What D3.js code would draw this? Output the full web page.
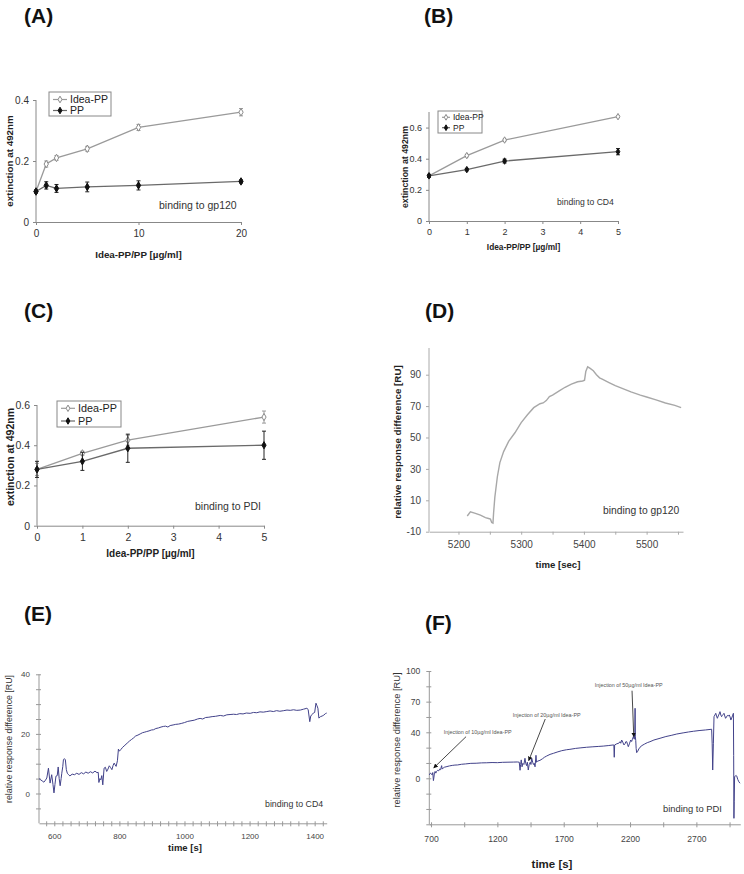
<!DOCTYPE html>
<html><head><meta charset="utf-8">
<script src="https://cdn.jsdelivr.net/npm/d3@7"></script>
<style>
body{margin:0;background:#fff}
svg{display:block}
text{font-family:"Liberation Sans",Arial,Helvetica,sans-serif}
</style>
</head><body>
<svg id="c" width="744" height="874"></svg>
<script>
// ---------- DATA ----------
// (A) binding to gp120
const concA = [0, 1, 2, 5, 10, 20];
const ideaA = [0.10, 0.19, 0.21, 0.24, 0.31, 0.36];
const ideaAErr = [0.005, 0.01, 0.008, 0.008, 0.01, 0.012];
const ppA = [0.10, 0.12, 0.11, 0.115, 0.12, 0.133];
const ppAErr = [0.005, 0.012, 0.013, 0.016, 0.015, 0.005];
// (B) binding to CD4
const concB = [0, 1, 2, 5];
const ideaB = [0.29, 0.42, 0.52, 0.67];
const ideaBErr = [0.005, 0.008, 0.006, 0.006];
const ppB = [0.29, 0.33, 0.385, 0.445];
const ppBErr = [0.01, 0.008, 0.012, 0.02];
// (C) binding to PDI
const concC = [0, 1, 2, 5];
const ideaC = [0.28, 0.36, 0.425, 0.54];
const ideaCErr = [0.03, 0.01, 0.025, 0.03];
const ppC = [0.28, 0.32, 0.385, 0.40];
const ppCErr = [0.04, 0.045, 0.07, 0.07];
const seriesNames = ["Idea-PP", "PP"];

// (D) SPR sensorgram, gp120
const timeD = [5214,5219,5227,5235,5243,5248,5251,5253,5255,5256,5258,5262,5266,5272,5280,5290,5300,5310,5320,5330,5335,5340,5345,5350,5360,5370,5380,5390,5398,5401,5403,5406,5410,5415,5420,5425,5430,5440,5450,5460,5475,5490,5500,5515,5530,5545,5555];
const respD = [0,2.6,1.7,0.5,-1,-1.6,-2,-4.1,-4.5,2,12,25,34,41,47.5,53,59.5,64.5,69,71.5,72,73.5,76,77,79.5,82,84,85.5,86,86.5,92,95,94,92.5,90,88,87,85,83,81.5,79,77,75.8,74,72,70.5,69];

// (E) SPR sensorgram, CD4
const timeE = [553,558,563,568,573,577,582,587,592,596,599,602,605,609,612,615,618,621,623,626,628,631,634,637,640,644,648,655,662,669,676,683,690,697,704,711,718,725,731,735,737,740,743,746,749,753,757,761,765,769,773,777,781,784,787,790,794,797,800,804,810,817,824,831,837,843,850,857,864,871,878,884,891,898,905,912,920,928,935,942,949,956,965,973,982,990,1000,1010,1020,1030,1040,1048,1056,1065,1075,1085,1095,1100,1110,1120,1130,1140,1151,1160,1170,1180,1190,1202,1212,1222,1232,1242,1253,1263,1273,1283,1293,1305,1315,1325,1335,1345,1356,1366,1376,1380,1385,1388,1392,1396,1400,1404,1407,1410,1413,1418,1423,1428,1433,1437];
const respE = [5,4.6,4.2,3.8,4.5,5.2,8.5,3.5,6.3,3,0.2,3,5.8,6,8.9,5,2.6,5,6.8,9,11.3,11.7,11.3,8,6.8,6.3,5.9,6.5,6.3,6.8,6.4,7,6.6,7.2,6.8,7.3,6.9,7.5,7,7.1,3.7,5,4.6,6,2.9,8.5,8.8,7.4,8.2,9.3,8.7,8,9.5,10.2,9.6,9.1,11,14.9,14.2,14.7,15.5,16.2,16.9,17.6,18.1,18.6,19.3,19.6,20,20.4,20.6,20.8,21,21.3,21.4,21.8,22,22.3,22.5,22.6,22.3,22.8,23,23.2,23.3,23.5,23.8,24.2,24.4,24.6,25,25.2,25,25.5,25.6,25.8,25.9,26,26.2,26,26.4,26.5,26.6,26.5,26.8,26.7,27,26.9,27.2,27.1,27.4,27.3,27.5,27.7,27.5,27.8,27.6,27.8,28,27.9,28.1,27.9,28,28.3,28.6,28.2,24.1,26,26.5,27,27.2,30.3,29.5,28.6,25.3,25.8,26,26.3,26.8,27];

// (F) SPR sensorgram, PDI
const timeF = [687,695,702,708,713,718,722,726,731,736,742,750,758,765,772,780,784,792,800,820,840,860,880,900,930,960,1000,1040,1080,1120,1160,1200,1240,1280,1320,1350,1365,1371,1375,1380,1386,1392,1400,1408,1414,1420,1426,1433,1440,1448,1453,1459,1466,1472,1478,1484,1491,1495,1505,1521,1540,1555,1572,1597,1622,1650,1685,1720,1747,1790,1830,1873,1920,1960,1998,2040,2074,2078,2081,2084,2100,2115,2124,2130,2137,2145,2154,2162,2168,2175,2181,2187,2195,2205,2212,2218,2225,2232,2236,2238,2240,2243,2246,2250,2258,2266,2275,2290,2310,2330,2350,2380,2426,2470,2510,2552,2600,2640,2677,2720,2770,2815,2819,2823,2828,2833,2840,2846,2852,2858,2865,2872,2878,2884,2890,2896,2902,2908,2914,2920,2927,2934,2941,2948,2954,2960,2966,2972,2979,2981,2983,2985,2988,2993,3000,3004,3012,3020,3029];
const respF = [3,4.5,4,3,5,-2,1,5,6,4.5,6,7,6.5,8,7.5,11,8,9,9.6,10.2,10.8,11.2,11.5,11.6,12.2,12.5,13,13.1,13.4,13.5,13.7,13.6,13.9,14,14.1,14.2,14,7,12,16,10,13,12,17.4,13,11,14,7.2,12,14,12,17.4,14,12,13,10,20,14,15,15.6,17,18.3,19.4,20.8,21.7,22.8,24,24.8,25.2,26,26.5,27,27.4,27.7,28,28.5,29,29,18.3,29,30,30.5,31.8,30.5,33.3,31.5,29,30,31.8,31.8,29.5,27.5,30,33.3,32,34,36.2,34,40,63.5,36,33,26,22.3,23.5,25.5,27,28.5,29.8,31,31.8,33.3,34.8,36.3,37.3,38.5,39.5,40.3,41,41.7,42.3,43,30,7.2,30,55.3,57,58.6,56,53.7,56,58,60.2,57,55.3,56.5,57.5,58.6,56,53.7,55,56.5,56,57,55,52,54,56,58.6,20,-34.8,-20,1.4,2,2.5,2,-1,-3,-4.3];
const injLabelsF = ["Injection of 10µg/ml Idea-PP", "Injection of 20µg/ml Idea-PP", "Injection of 50µg/ml Idea-PP"];
const injTimeF = [720, 1436, 2228];   // arrow target time
const injRespF = [9, 15.3, 36.2];     // arrow target response

// ---------- DRAWING ----------
const svg = d3.select("#c");
const FONT = '"Liberation Sans",Arial,Helvetica,sans-serif';
const hyph = f => d => f(d).replace("\u2212", "-");

function styleAxis(g, col, txtCol, fs){
  g.select(".domain").attr("stroke", col).attr("stroke-width", 1);
  g.selectAll(".tick line").attr("stroke", col);
  g.selectAll(".tick text").attr("fill", txtCol).attr("font-size", fs).attr("font-family", FONT);
}

function panelLabel(txt, x, y){
  svg.append("text").attr("x", x).attr("y", y).text(txt)
    .attr("font-size", 21).attr("font-weight", "bold").attr("fill", "#111");
}

function dosePanel(o){
  const x = d3.scaleLinear().domain(o.xDom).range([o.left, o.right]);
  const y = d3.scaleLinear().domain(o.yDom).range([o.bottom, o.top]);
  const gx = svg.append("g").attr("transform", `translate(0,${o.bottom})`)
    .call(d3.axisBottom(x).tickValues(o.xTicks).tickSize(3).tickSizeOuter(0).tickPadding(5).tickFormat(d3.format("d")));
  styleAxis(gx, "#888", "#333", o.tickFs);
  const gy = svg.append("g").attr("transform", `translate(${o.left},0)`)
    .call(d3.axisLeft(y).tickValues(o.yTicks).tickSize(3).tickSizeOuter(0).tickPadding(4).tickFormat(d => d === 0 ? "0" : d3.format(".1f")(d)));
  styleAxis(gy, "#888", "#333", o.tickFs);
  gy.select(".domain").attr("d", `M0,${o.bottom}V${o.top}`);

  const styles = [
    {line: "#9a9a9a", fill: "#fff", stroke: "#8a8a8a", err: "#9a9a9a"},
    {line: "#6a6a6a", fill: "#111", stroke: "#111", err: "#222"}
  ];
  const line = d3.line().x(d => x(d[0])).y(d => y(d[1]));
  const diamond = d3.symbol().type(d3.symbolDiamond).size(o.mk);
  o.series.forEach((s, i) => {
    const st = styles[i];
    const pts = o.conc.map((c, k) => [c, s.v[k], s.e[k]]);
    svg.append("path").datum(pts).attr("d", line).attr("fill", "none")
      .attr("stroke", st.line).attr("stroke-width", 1.3);
    const eb = svg.append("g");
    pts.forEach(p => {
      const x0 = x(p[0]), yt = y(p[1] + p[2]), yb = y(p[1] - p[2]);
      eb.append("line").attr("x1", x0).attr("x2", x0).attr("y1", yt).attr("y2", yb).attr("stroke", st.err).attr("stroke-width", 1);
      eb.append("line").attr("x1", x0 - 2).attr("x2", x0 + 2).attr("y1", yt).attr("y2", yt).attr("stroke", st.err).attr("stroke-width", 1);
      eb.append("line").attr("x1", x0 - 2).attr("x2", x0 + 2).attr("y1", yb).attr("y2", yb).attr("stroke", st.err).attr("stroke-width", 1);
    });
    svg.append("g").selectAll("path").data(pts).join("path")
      .attr("d", diamond).attr("transform", p => `translate(${x(p[0])},${y(p[1])})`)
      .attr("fill", st.fill).attr("stroke", st.stroke).attr("stroke-width", 1);
  });
  // legend
  const L = o.legend;
  svg.append("rect").attr("x", L.x).attr("y", L.y).attr("width", L.w).attr("height", L.h)
    .attr("fill", "#fff").attr("stroke", "#888").attr("stroke-width", 1);
  seriesNames.forEach((n, i) => {
    const st = styles[i];
    const ly = L.y + L.row0 + i * L.dy;
    svg.append("line").attr("x1", L.x + 4).attr("x2", L.x + 4 + L.lw).attr("y1", ly).attr("y2", ly)
      .attr("stroke", st.line).attr("stroke-width", 1.2);
    svg.append("path").attr("d", d3.symbol().type(d3.symbolDiamond).size(o.mk * 0.8)).attr("transform", `translate(${L.x + 4 + L.lw / 2},${ly})`)
      .attr("fill", st.fill).attr("stroke", st.stroke);
    svg.append("text").attr("x", L.x + 7 + L.lw).attr("y", ly + L.fs * 0.36).text(n)
      .attr("font-size", L.fs).attr("fill", "#222");
  });
  // axis titles
  svg.append("text").attr("x", (o.left + o.right) / 2).attr("y", o.xlabY).attr("text-anchor", "middle")
    .text("Idea-PP/PP [µg/ml]").attr("font-size", o.labFs).attr("font-weight", "bold").attr("fill", "#222");
  svg.append("text").attr("transform", `translate(${o.ylabX},${o.ylabYc}) rotate(-90)`).attr("text-anchor", "middle")
    .text("extinction at 492nm").attr("font-size", o.ylabFs).attr("font-weight", "bold").attr("fill", "#222");
  svg.append("text").attr("x", o.note[0]).attr("y", o.note[1]).text(o.note[2])
    .attr("font-size", o.noteFs).attr("fill", "#333");
}

// (A)
panelLabel("(A)", 24, 23);
dosePanel({left: 36, right: 241, top: 100, bottom: 222, xDom: [0, 20], yDom: [0, 0.4],
  xTicks: [0, 10, 20], yTicks: [0, 0.2, 0.4], tickFs: 10, mk: 16, conc: concA,
  series: [{v: ideaA, e: ideaAErr}, {v: ppA, e: ppAErr}],
  legend: {x: 49, y: 92, w: 62, h: 24, row0: 7.5, dy: 11, lw: 14, fs: 10.5},
  xlabY: 258, labFs: 9.8, ylabX: 13, ylabYc: 161, ylabFs: 9.8,
  note: [159, 209, "binding to gp120"], noteFs: 10.5});

// (B)
panelLabel("(B)", 424, 23);
dosePanel({left: 429, right: 618, top: 112, bottom: 221, xDom: [0, 5], yDom: [0, 0.7],
  xTicks: [0, 1, 2, 3, 4, 5], yTicks: [0, 0.2, 0.4, 0.6], tickFs: 9, mk: 12, conc: concB,
  series: [{v: ideaB, e: ideaBErr}, {v: ppB, e: ppBErr}],
  legend: {x: 438, y: 111, w: 44, h: 22, row0: 6.3, dy: 10.4, lw: 8, fs: 8.5},
  xlabY: 250, labFs: 8.3, ylabX: 408, ylabYc: 167, ylabFs: 8.8,
  note: [557, 205, "binding to CD4"], noteFs: 8.6});

// (C)
panelLabel("(C)", 24, 318);
dosePanel({left: 37, right: 264, top: 405, bottom: 525.7, xDom: [0, 5], yDom: [0, 0.6],
  xTicks: [0, 1, 2, 3, 4, 5], yTicks: [0, 0.2, 0.4, 0.6], tickFs: 10.5, mk: 15, conc: concC,
  series: [{v: ideaC, e: ideaCErr}, {v: ppC, e: ppCErr}],
  legend: {x: 57, y: 401, w: 64, h: 26, row0: 7.3, dy: 12.7, lw: 14, fs: 10.8},
  xlabY: 557, labFs: 10, ylabX: 14, ylabYc: 457, ylabFs: 10.5,
  note: [195, 510, "binding to PDI"], noteFs: 10.5});

// (D)
panelLabel("(D)", 425, 318);
(function(){
  const left = 429, right = 683, top = 348, bottom = 531.7;
  const x = d3.scaleLinear().domain([5153, 5558]).range([left, right]);
  const y = d3.scaleLinear().domain([-10, 107]).range([bottom, top]);
  const gx = svg.append("g").attr("transform", `translate(0,${bottom})`)
    .call(d3.axisBottom(x).tickValues(d3.range(5200, 5551, 50)).tickSize(3).tickSizeOuter(0).tickPadding(6)
      .tickFormat(d => d % 100 === 0 ? d : ""));
  styleAxis(gx, "#aaa", "#444", 10);
  const gy = svg.append("g").attr("transform", `translate(${left},0)`)
    .call(d3.axisLeft(y).tickValues([-10, 10, 30, 50, 70, 90]).tickSize(3).tickSizeOuter(0).tickPadding(5)
      .tickFormat(hyph(d3.format("d"))));
  styleAxis(gy, "#aaa", "#444", 10);
  gy.select(".domain").attr("d", `M0,${bottom}V${top}`);
  const pts = timeD.map((t, i) => [t, respD[i]]);
  svg.append("path").datum(pts).attr("fill", "none").attr("stroke", "#a8a8a8").attr("stroke-width", 1.4)
    .attr("d", d3.line().x(d => x(d[0])).y(d => y(d[1])));
  svg.append("text").attr("x", 558).attr("y", 568).attr("text-anchor", "middle").text("time [sec]")
    .attr("font-size", 9.6).attr("font-weight", "bold").attr("fill", "#222");
  svg.append("text").attr("transform", "translate(401,442) rotate(-90)").attr("text-anchor", "middle")
    .text("relative response difference [RU]").attr("font-size", 9.8).attr("font-weight", "bold").attr("fill", "#222");
  svg.append("text").attr("x", 603).attr("y", 514).text("binding to gp120").attr("font-size", 10.3).attr("fill", "#333");
})();

// (E)
panelLabel("(E)", 24, 621);
(function(){
  const left = 39, right = 326.7, top = 674.3, bottom = 823.3;
  const x = d3.scaleLinear().domain([553, 1437]).range([left, right]);
  const y = d3.scaleLinear().domain([-10, 40]).range([bottom, top]);
  const gx = svg.append("g").attr("transform", `translate(0,${bottom})`)
    .call(d3.axisBottom(x).tickValues(d3.range(575, 1437, 25)).tickSize(3).tickSizeOuter(0).tickPadding(7)
      .tickFormat(d => d % 200 === 0 ? d : ""));
  styleAxis(gx, "#999", "#444", 8);
  gx.selectAll(".tick line").attr("y1", -2);
  const gy = svg.append("g").attr("transform", `translate(${left},0)`)
    .call(d3.axisLeft(y).tickValues(d3.range(-5, 41, 5)).tickSize(3).tickSizeOuter(0).tickPadding(6)
      .tickFormat(d => d % 20 === 0 ? d : ""));
  styleAxis(gy, "#999", "#444", 8);
  gy.selectAll(".tick line").attr("x1", 2);
  gy.select(".domain").attr("d", `M0,${bottom}V${top}`);
  const pts = timeE.map((t, i) => [t, respE[i]]);
  svg.append("path").datum(pts).attr("fill", "none").attr("stroke", "#42428a").attr("stroke-width", 1)
    .attr("d", d3.line().x(d => x(d[0])).y(d => y(d[1])));
  svg.append("text").attr("x", 185).attr("y", 851).attr("text-anchor", "middle").text("time [s]")
    .attr("font-size", 9.5).attr("font-weight", "bold").attr("fill", "#222");
  svg.append("text").attr("transform", "translate(12,739) rotate(-90)").attr("text-anchor", "middle")
    .text("relative response difference [RU]").attr("font-size", 8.8).attr("fill", "#333");
  svg.append("text").attr("x", 265).attr("y", 807).text("binding to CD4").attr("font-size", 8.8).attr("fill", "#333");
})();

// (F)
panelLabel("(F)", 425, 630);
(function(){
  const left = 429.3, right = 740.3, top = 671, bottom = 824.3;
  const x = d3.scaleLinear().domain([687, 3031]).range([left, right]);
  const y = d3.scaleLinear().domain([-40, 0, 40, 100]).range([bottom, 778.3, 732.3, top]);
  const minorY = d3.range(100, 39, -15).concat(d3.range(40 - 40 / 3, -41, -40 / 3));
  const gx = svg.append("g").attr("transform", `translate(0,${bottom})`)
    .call(d3.axisBottom(x).tickValues(d3.range(700, 3000, 250)).tickSize(3).tickSizeOuter(0).tickPadding(9)
      .tickFormat(d => (d - 700) % 500 === 0 ? d : ""));
  styleAxis(gx, "#999", "#444", 8.6);
  gx.selectAll(".tick line").attr("y1", -2);
  const gy = svg.append("g").attr("transform", `translate(${left},0)`)
    .call(d3.axisLeft(y).tickValues(minorY).tickSize(3).tickSizeOuter(0).tickPadding(6)
      .tickFormat(d => [100, 70, 40, 0].includes(Math.round(d * 1000) / 1000) ? d3.format("d")(d) : ""));
  styleAxis(gy, "#999", "#444", 8.6);
  gy.selectAll(".tick line").attr("x1", 2);
  gy.select(".domain").attr("d", `M0,${bottom}V${top}`);
  const pts = timeF.map((t, i) => [t, respF[i]]);
  svg.append("path").datum(pts).attr("fill", "none").attr("stroke", "#42428a").attr("stroke-width", 1)
    .attr("d", d3.line().x(d => x(d[0])).y(d => y(d[1])));
  // annotations (text anchor and arrow start given in data units)
  const defs = svg.append("defs");
  defs.append("marker").attr("id", "ah").attr("viewBox", "0 0 10 10").attr("refX", 9).attr("refY", 5)
    .attr("markerWidth", 5).attr("markerHeight", 5).attr("orient", "auto")
    .append("path").attr("d", "M0,0L10,5L0,10Z").attr("fill", "#111");
  const textPos = [[796, 38.5], [1316, 55.3], [1934, 84.6]];
  const arrowFrom = [[964, 36.2], [1561, 53], [2215, 80.7]];
  injLabelsF.forEach((lab, i) => {
    svg.append("text").attr("x", x(textPos[i][0])).attr("y", y(textPos[i][1])).text(lab)
      .attr("font-size", 5.4).attr("fill", "#555");
    svg.append("line").attr("x1", x(arrowFrom[i][0])).attr("y1", y(arrowFrom[i][1]))
      .attr("x2", x(injTimeF[i])).attr("y2", y(injRespF[i]))
      .attr("stroke", "#333").attr("stroke-width", 0.9).attr("marker-end", "url(#ah)");
  });
  svg.append("text").attr("x", 552).attr("y", 868).attr("text-anchor", "middle").text("time [s]")
    .attr("font-size", 11.5).attr("font-weight", "bold").attr("fill", "#222");
  svg.append("text").attr("transform", "translate(400,740) rotate(-90)").attr("text-anchor", "middle")
    .text("relative response difference [RU]").attr("font-size", 9.3).attr("fill", "#333");
  svg.append("text").attr("x", 663).attr("y", 812).text("binding to PDI").attr("font-size", 9.4).attr("fill", "#333");
})();
</script>
</body></html>
